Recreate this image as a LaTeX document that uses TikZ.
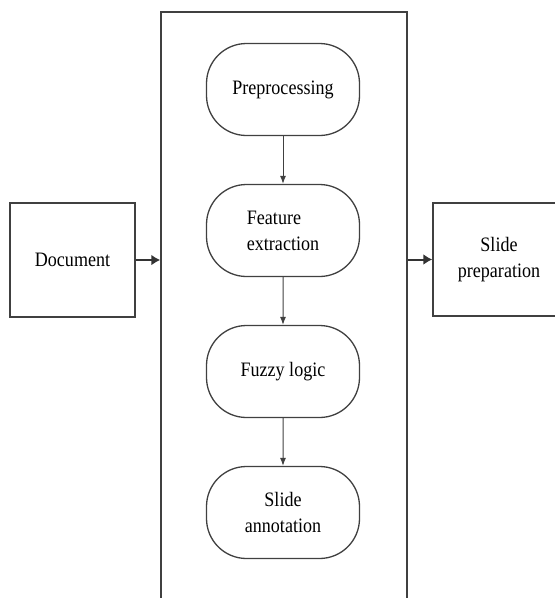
\documentclass[tikz,border=0pt]{standalone}
\usepackage{fontspec}
\setmainfont{Liberation Serif}[FakeStretch=0.88]
\usetikzlibrary{arrows.meta}

\begin{document}
\begin{tikzpicture}[x=1pt, y=1pt, level distance=141pt,
  every node/.style = {draw=black!75, line width=1.3pt, align=center,
    font=\fontsize{20.5}{26}\selectfont},
  stage/.style = {rounded corners=40pt, minimum width=153pt, minimum height=92pt},
  box/.style = {minimum width=125pt, minimum height=114pt},
  flow/.style = {draw=black!80, line width=2pt, -{Latex[length=9pt,width=11pt]}},
  edge from parent/.style = {draw=black!75, line width=1pt,
    -{Latex[length=8pt,width=6pt]}}]
  \useasboundingbox (0,0) rectangle (555,-598);
  \clip (0,0) rectangle (555,-598);
  \node (frame) [line width=1.5pt, minimum width=246pt, minimum height=610pt, anchor=north] at (284,-11) {};
  \node (pre) [stage] at (283,-89.5) {Preprocessing}
    child { node (feat) [stage, align=left] {Feature\\extraction}
      child { node (fuzzy) [stage] {Fuzzy logic}
        child { node (annot) [stage] {Slide\\annotation} } } };
  \node (doc) [box] at (72.5,-260) {Document};
  \node (prep) [box, minimum width=132pt, minimum height=113pt] at (499,-259.5) {Slide\\preparation};
  \draw[flow] (doc.east) -- (doc.east -| frame.west);
  \draw[flow] (frame.east |- prep.west) -- (prep.west);
\end{tikzpicture}
\end{document}
